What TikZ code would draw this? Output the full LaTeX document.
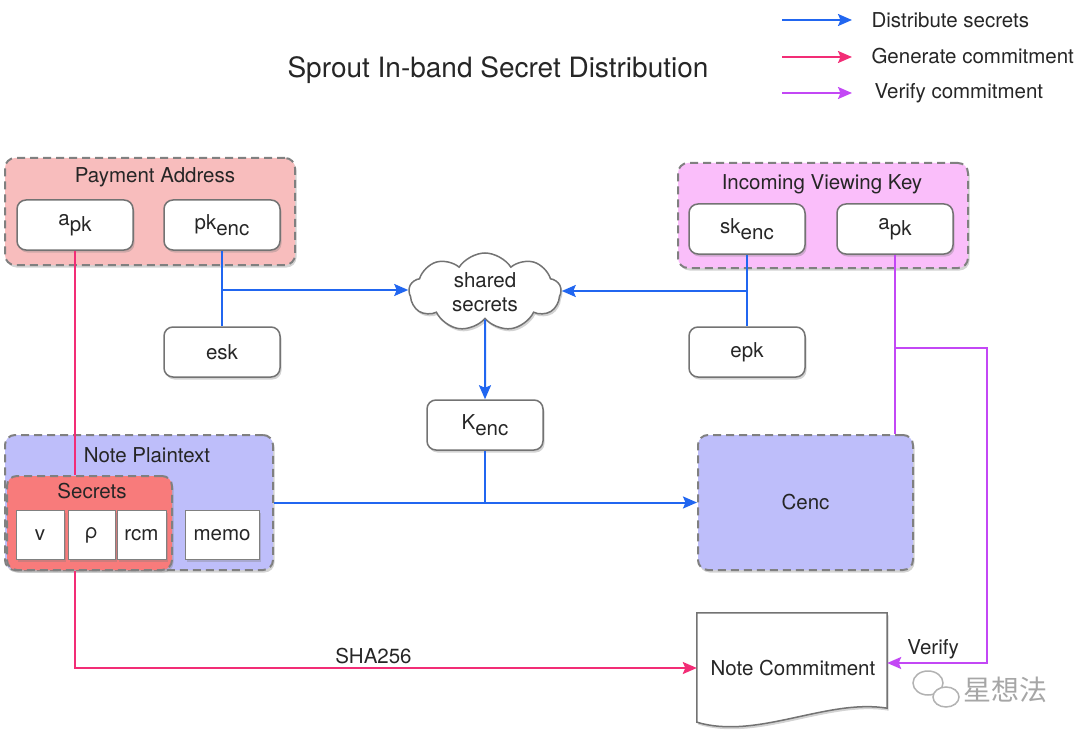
\documentclass[tikz,border=0pt]{standalone}
\usepackage{fontspec}
\setmainfont{TeX Gyre Heros}
\newfontfamily\cjk{Noto Sans CJK SC}
\usepackage{tikz}
\usetikzlibrary{positioning}
\usetikzlibrary{arrows.meta,shapes.symbols,shadows}
\definecolor{payfill}{RGB}{248,189,189}
\definecolor{ivkfill}{RGB}{250,190,250}
\definecolor{notefill}{RGB}{190,190,250}
\definecolor{secfill}{RGB}{248,123,123}
\definecolor{distblue}{RGB}{33,102,240}
\definecolor{genpink}{RGB}{242,45,118}
\definecolor{verpurple}{RGB}{195,71,245}
\newcommand{\lowsub}[2]{\raisebox{0.15ex}{#1}\raisebox{-0.4ex}{#2}}

\begin{document}
\begin{tikzpicture}[x=1pt,y=-1pt,
    every node/.style={font=\fontsize{20.5}{24}\selectfont, text=black!85},
    shade/.style={drop shadow={shadow xshift=1.5pt,shadow yshift=-2.5pt,opacity=0.35}},
    keybox/.style={shade,draw=black!55,line width=1.5pt,fill=white,rounded corners=9pt,minimum width=116pt,minimum height=50pt},
    cellbox/.style={shade,draw=black!50,line width=1pt,fill=white,minimum height=49pt},
    group/.style={shade,draw=black!50,line width=2pt,dash pattern=on 8pt off 5pt,rounded corners=10pt},
    tip/.style={-{Stealth[length=14pt,width=12pt,inset=2.5pt]}},
    distline/.style={draw=distblue,line width=2pt},
    genline/.style={draw=genpink,line width=2pt},
    verline/.style={draw=verpurple,line width=2pt}]
    \useasboundingbox (0,0) rectangle (1080,741);
    \node[font=\fontsize{28}{32}\selectfont] (title) at (498,70) {Sprout In-band Secret Distribution};
    \node[anchor=west] (leg1) at (868,20) {Distribute secrets};
    \node[anchor=west] (leg2) at (868,56) {Generate commitment};
    \node[anchor=west] (leg3) at (871,93) {Verify commitment};
    \coordinate (k1) at (782,20);
    \coordinate (k2) at (782,57);
    \coordinate (k3) at (782,93);
    \draw[distline,tip,shorten >=16pt] (k1) -- (k1 -| leg1.west);
    \draw[genline,tip,shorten >=16pt] (k2) -- (k2 -| leg2.west);
    \draw[verline,tip,shorten >=19pt] (k3) -- (k3 -| leg3.west);

    \node[group,fill=payfill,minimum width=290pt,minimum height=107pt] (payaddr) at (150,211.5) {};
    \node (paylbl) at (155,177) {Payment Address};
    \node[keybox] (apkL) at (75,225) {\lowsub{a}{pk}};
    \node[keybox] (pkenc) at (222,225) {\lowsub{pk}{enc}};

    \node[group,fill=ivkfill,minimum width=290pt,minimum height=105pt] (ivk) at (823,215.5) {};
    \node (ivklbl) at (822,184) {Incoming Viewing Key};
    \node[keybox] (skenc) at (747,229) {\lowsub{sk}{enc}};
    \node[keybox] (apkR) at (895,229) {\lowsub{a}{pk}};

    \node[cloud,shade,draw=black!55,line width=1.5pt,fill=white,cloud puffs=9,cloud puff arc=115,aspect=2,minimum width=152pt,minimum height=78pt,inner sep=0pt,align=center] (shared) at (485,292) {shared\\secrets};
    \node[keybox] (esk) at (222,352) {esk};
    \node[keybox] (epk) at (747,352) {epk};
    \node[keybox] (kenc) at (485,425) {\lowsub{K}{enc}};

    \node[group,fill=notefill,minimum width=268pt,minimum height=135pt] (noteplain) at (139,502.5) {};
    \node (notelbl) at (147,455) {Note Plaintext};
    \node[group,fill=secfill,minimum width=165pt,minimum height=94pt] (secrets) at (89.5,523) {};
    \node (seclbl) at (92,491) {Secrets};
    \node[cellbox,minimum width=48pt] (v) at (40,535) {v};
    \node[cellbox,minimum width=47pt] (rho) at (91.5,535) {ρ};
    \node[cellbox,minimum width=49pt] (rcm) at (141.5,535) {rcm};
    \node[cellbox,minimum width=74pt] (memo) at (222,535) {memo};

    \node[group,fill=notefill,minimum width=215pt,minimum height=135pt] (cenc) at (805.5,502.5) {Cenc};

    \node[minimum width=190pt,minimum height=110pt] (commit) at (792,668) {};
    \draw[shade,draw=black!55,line width=1.5pt,fill=white] (commit.north west) -- (commit.north east) -- ([yshift=15pt]commit.south east) .. controls ([xshift=-60pt,yshift=25pt]commit.south east) and ([xshift=60pt,yshift=-17pt]commit.south west) .. ([yshift=1pt]commit.south west) -- cycle;
    \node (commitlbl) at (793,668) {Note Commitment};

    \coordinate (lj) at (pkenc.south |- 0,290);
    \coordinate (rj) at (skenc.south |- 0,291);
    \draw[distline] (pkenc.south) -- (esk.north);
    \draw[distline,tip] (lj) -- (lj -| shared.west);
    \draw[distline] (skenc.south) -- (epk.north);
    \draw[distline,tip] (rj) -- (rj -| shared.east);
    \draw[distline,tip] (shared.south) -- (kenc.north);
    \draw[distline,tip] (noteplain.east) -- (cenc.west);
    \draw[distline] (kenc.south) -- (kenc.south |- cenc.west);

    \draw[genline] (apkL.south) -- (apkL.south |- secrets.north);
    \draw[genline,tip] (apkL.south |- secrets.south) |- node[above,pos=0.74] {SHA256} (commit.west);

    \coordinate (vj) at (apkR.south |- 0,348);
    \coordinate (vturn) at (987,348);
    \draw[verline] (apkR.south) -- (apkR.south |- cenc.north);
    \draw[verline,tip] (vj) -- (vturn) |- node[above,pos=0.77] {Verify} ([yshift=5pt]commit.east);

    \draw[black!30,line width=1.5pt] (928,683) ellipse (15 and 12);
    \draw[black!30,line width=1.5pt,fill=white] (946,697) ellipse (13 and 10);
    \node[font=\cjk\fontsize{28}{32}\selectfont,text=black!35] (mark) at (1005,690) {星想法};
\end{tikzpicture}
\end{document}
